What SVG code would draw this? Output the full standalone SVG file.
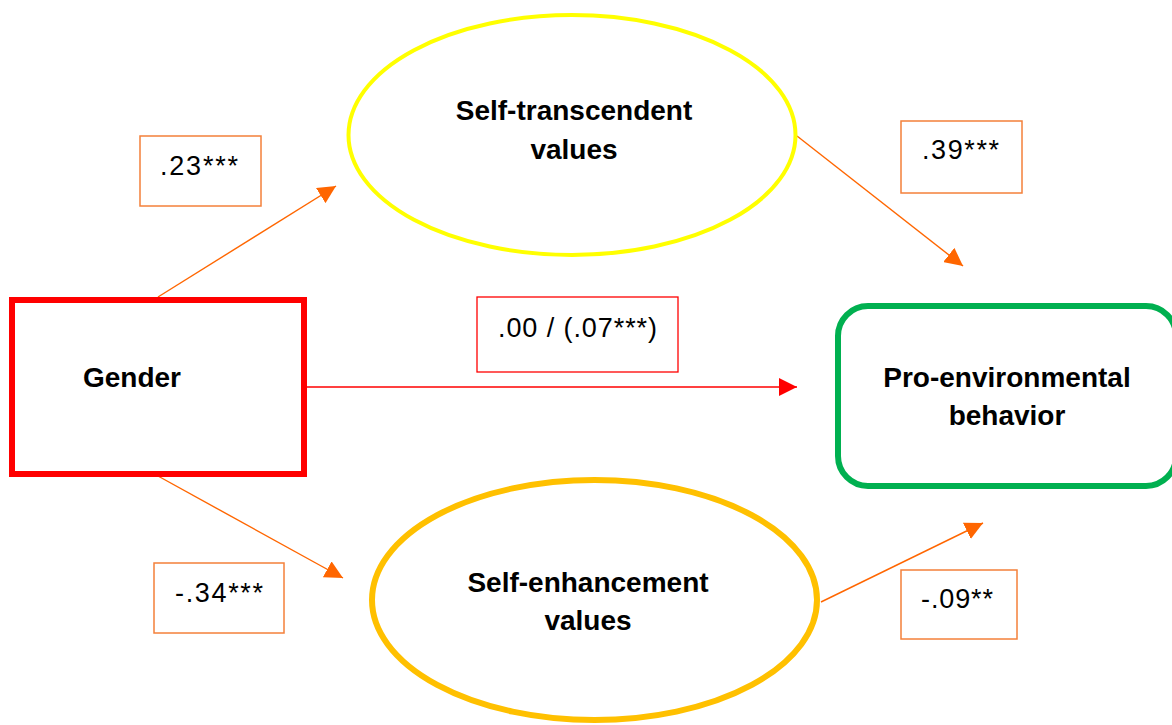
<svg xmlns="http://www.w3.org/2000/svg" width="1172" height="725" viewBox="0 0 1172 725">
<style>
.lbl{font-family:"Liberation Sans",Arial,sans-serif;font-size:28px;font-weight:bold;fill:#000;text-anchor:middle}
.num{font-family:"Liberation Sans",Arial,sans-serif;font-size:27px;fill:#000}
.nbox{fill:#fff;stroke:#F4803A;stroke-width:1.5}
.or{stroke:#FF6600;stroke-width:1.4;fill:none;marker-end:url(#ao)}
.rd{stroke:#FF0000;stroke-width:1.4;fill:none;marker-end:url(#ar)}
</style>
<defs>
<marker id="ao" markerUnits="userSpaceOnUse" markerWidth="18" markerHeight="18" refX="16" refY="8" orient="auto" viewBox="0 0 16 16"><path d="M0,0 L16,8 L0,16 Z" fill="#FF6600"/></marker>
<marker id="ar" markerUnits="userSpaceOnUse" markerWidth="18" markerHeight="18" refX="16" refY="8" orient="auto" viewBox="0 0 16 16"><path d="M0,0 L16,8 L0,16 Z" fill="#FF0000"/></marker>
</defs>
<rect width="1172" height="725" fill="#fff"/>
<g id="connectors">
<line class="or" x1="158" y1="297" x2="336" y2="186"/>
<line class="or" x1="797" y1="136" x2="963" y2="266"/>
<line class="or" x1="158" y1="476" x2="343" y2="578"/>
<line class="or" x1="821" y1="602" x2="983" y2="523"/>
<line class="rd" x1="307" y1="387" x2="797" y2="387"/>
</g>
<g id="gender">
<rect x="12" y="300" width="292" height="174" fill="#fff" stroke="#FF0000" stroke-width="6"/>
<text class="lbl" x="132" y="387">Gender</text>
</g>
<g id="self-transcendent">
<ellipse cx="572" cy="135" rx="223.5" ry="120" fill="#fff" stroke="#FFFF00" stroke-width="4"/>
<text class="lbl" x="574" y="120">Self-transcendent</text>
<text class="lbl" x="574" y="159">values</text>
</g>
<g id="self-enhancement">
<ellipse cx="594.5" cy="600" rx="222.5" ry="120" fill="#fff" stroke="#FFC000" stroke-width="6"/>
<text class="lbl" x="588" y="592">Self-enhancement</text>
<text class="lbl" x="588" y="630">values</text>
</g>
<g id="pro-environmental">
<rect x="838" y="306" width="338" height="180" rx="30" fill="#fff" stroke="#00B050" stroke-width="6"/>
<text class="lbl" x="1007" y="387">Pro-environmental</text>
<text class="lbl" x="1007" y="425">behavior</text>
</g>
<g id="coef-023">
<rect class="nbox" x="140" y="136" width="121" height="70"/>
<text class="num" x="160" y="175" textLength="78" lengthAdjust="spacing">.23***</text>
</g>
<g id="coef-039">
<rect class="nbox" x="901" y="121" width="121" height="72"/>
<text class="num" x="922" y="159" textLength="77" lengthAdjust="spacing">.39***</text>
</g>
<g id="coef-000">
<rect x="477" y="297" width="201" height="75" fill="#fff" stroke="#FF0000" stroke-width="1.3"/>
<text class="num" x="498" y="337" textLength="159" lengthAdjust="spacing">.00 / (.07***)</text>
</g>
<g id="coef-034">
<rect class="nbox" x="154" y="563" width="130" height="70"/>
<text class="num" x="175" y="602" textLength="88" lengthAdjust="spacing">-.34***</text>
</g>
<g id="coef-009">
<rect class="nbox" x="901" y="570" width="116" height="69"/>
<text class="num" x="921" y="608" textLength="72" lengthAdjust="spacing">-.09**</text>
</g>
</svg>
